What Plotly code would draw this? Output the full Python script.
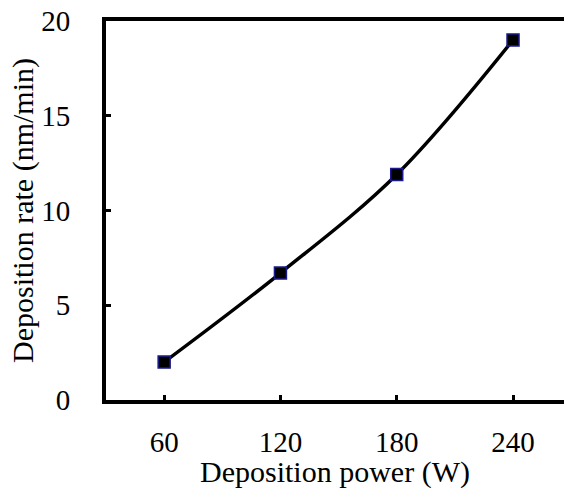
import plotly.graph_objects as go

power = [60, 120, 180, 240]
rate = [2.0, 6.7, 11.9, 19.0]
x_ticks = [60, 120, 180, 240]
y_ticks = [0, 5, 10, 15, 20]

font_family = "Liberation Serif, Times New Roman, serif"

fig = go.Figure()
fig.add_trace(go.Scatter(
    x=power, y=rate, mode="lines+markers",
    line=dict(color="black", width=3.5, shape="spline", smoothing=1),
    marker=dict(symbol="square", size=12, color="black",
                line=dict(color="#1a1a8c", width=1.5)),
    showlegend=False, cliponaxis=False,
))

fig.update_layout(
    width=564, height=489,
    margin=dict(l=106, r=0, t=21, b=89),
    plot_bgcolor="white", paper_bgcolor="white",
    font=dict(family=font_family, size=29, color="black"),
    xaxis=dict(
        range=[30, 266.3], tickvals=x_ticks, ticktext=[str(v) for v in x_ticks],
        showline=True, linewidth=4, linecolor="black", mirror=True,
        ticks="inside", ticklen=5, tickwidth=3, tickcolor="black",
        showgrid=False, zeroline=False,
        ticklabelstandoff=13,
        tickfont=dict(size=29),
        title=dict(text="Deposition power (W)", font=dict(size=30), standoff=0),
    ),
    yaxis=dict(
        range=[0, 20], tickvals=y_ticks,
        showline=True, linewidth=4, linecolor="black", mirror=False,
        ticks="inside", ticklen=5, tickwidth=3, tickcolor="black",
        showgrid=False, zeroline=False,
        ticklabelstandoff=26,
        tickfont=dict(size=29),
        title=dict(text="Deposition rate (nm/min)", font=dict(size=30), standoff=0),
    ),
)

fig.write_html("out.html")
